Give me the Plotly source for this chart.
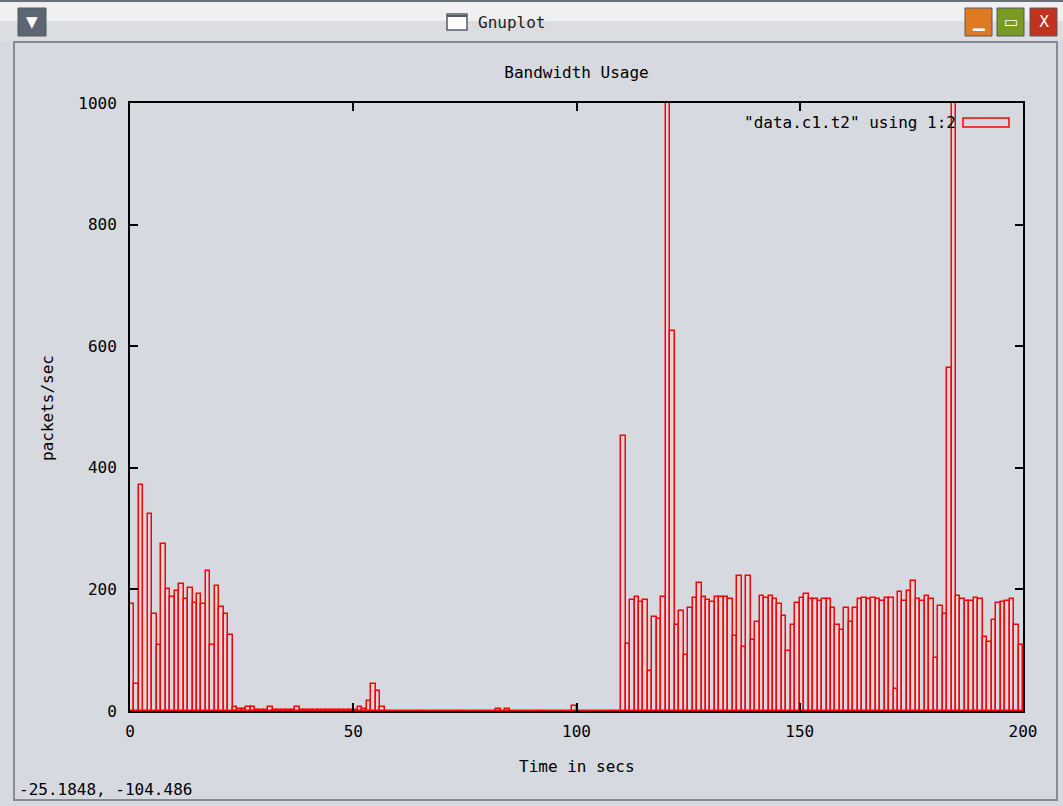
import plotly.graph_objects as go

# ---- data: packets per second, one value per second (t = 0..199) ----
burst_start = [176, 44, 372, 0, 324, 160, 109, 275, 200, 187, 197, 209, 184, 202,
               178, 192, 176, 230, 109, 205, 171, 160, 125]                     # t 0-22
trickle = [6, 3, 3, 6, 6, 2, 2, 2, 6, 2, 2, 2, 2, 2, 6, 2, 2, 2, 2, 2, 2, 2, 2,
           2, 2, 2, 2, 2, 6, 3, 17, 44, 33, 6]                                  # t 23-56
quiet = [0] * 25 + [3, 0, 3] + [0] * 14 + [9] + [0] * 10                         # t 57-109
burst_mid = [453, 110, 183, 188, 180, 183, 65, 155, 151, 188, 1200, 625, 142, 164,
             92, 170, 186, 210, 188, 183, 180, 188, 188, 188]                   # t 110-133
steady = [184, 124, 222, 106, 222, 117, 146, 189, 186, 189, 184, 176, 157, 98,
          141, 178, 186, 192, 184, 184, 181, 184, 184, 170, 141, 133, 170, 146,
          170, 184, 186, 184, 186, 184]                                          # t 134-167
tail = [181, 186, 186, 36, 195, 181, 197, 214, 184, 181, 189, 184, 87, 173, 160,
        564, 1200, 189, 184, 181, 181, 186, 184, 122, 114, 149, 177, 179, 181,
        184, 141, 108]                                                           # t 168-199

packets = burst_start + trickle + quiet + burst_mid + steady + tail
seconds = list(range(len(packets)))

x_ticks = [0, 50, 100, 150, 200]
y_ticks = [0, 200, 400, 600, 800, 1000]

# ---- figure geometry helpers (figure pixels -> paper coords) ----
W, H = 1063, 806
L, R, T, B = 130, 1023, 103, 711
def px(x):
    return (x - L) / (R - L)
def py(y):
    return (B - y) / (B - T)

MONO = "DejaVu Sans Mono"
BG = "#d6d9df"

fig = go.Figure(go.Bar(
    x=seconds, y=packets, width=1, offset=0,
    marker=dict(color="rgba(0,0,0,0)", line=dict(color="#ff0000", width=1.5)),
    showlegend=False, hoverinfo="x+y",
))

axis_common = dict(
    showline=True, linecolor="black", linewidth=2, mirror="ticks",
    ticks="inside", ticklen=8, tickwidth=2, tickcolor="black",
    showgrid=False, zeroline=False,
    tickfont=dict(family=MONO, size=16, color="black"),
)
fig.update_layout(
    width=W, height=H,
    margin=dict(l=L, r=W - R, t=T, b=H - B),
    paper_bgcolor=BG, plot_bgcolor=BG,
    xaxis=dict(range=[0, 200], tickvals=x_ticks, ticklabelstandoff=5, **axis_common),
    yaxis=dict(range=[0, 1000], tickvals=y_ticks, ticklabelstandoff=8, **axis_common),
    title=dict(text="Bandwidth Usage", x=0.5, xref="paper", xanchor="center",
               y=1 - 72 / H, yref="container", yanchor="middle",
               font=dict(family=MONO, size=16, color="black")),
    bargap=0,
)

shapes = []
annotations = []

# window chrome: title bar
shapes.append(dict(type="rect", xref="paper", yref="paper", layer="above",
                   x0=px(0), x1=px(W), y0=py(0), y1=py(21),
                   fillcolor="#f0f0f2", line=dict(width=0)))
shapes.append(dict(type="rect", xref="paper", yref="paper", layer="above",
                   x0=px(0), x1=px(W), y0=py(21), y1=py(42),
                   fillcolor="#dcdde1", line=dict(width=0)))
shapes.append(dict(type="line", xref="paper", yref="paper", layer="above",
                   x0=px(0), x1=px(W), y0=py(1), y1=py(1),
                   line=dict(color="#6b6f78", width=2)))
# content frame
shapes.append(dict(type="rect", xref="paper", yref="paper", layer="above",
                   x0=px(14), x1=px(1057), y0=py(42), y1=py(800),
                   fillcolor="rgba(0,0,0,0)", line=dict(color="#858a94", width=2)))

def button(x0, x1, color, glyph):
    shapes.append(dict(type="rect", xref="paper", yref="paper", layer="above",
                       x0=px(x0), x1=px(x1), y0=py(8), y1=py(36),
                       fillcolor=color, line=dict(color="#55595f", width=1)))
    annotations.append(dict(xref="paper", yref="paper", x=px((x0 + x1) / 2), y=py(22),
                            text=glyph, showarrow=False,
                            font=dict(family="DejaVu Sans", size=15, color="white"),
                            xanchor="center", yanchor="middle"))

button(18, 46, "#5b6573", "▼")
button(965, 992, "#e07a22", "▁")
button(997, 1024, "#7b9a22", "▭")
button(1030, 1057, "#c2321e", "X")

# small window icon and title text
shapes.append(dict(type="rect", xref="paper", yref="paper", layer="above",
                   x0=px(447), x1=px(467), y0=py(14), y1=py(30),
                   fillcolor="white", line=dict(color="#555a62", width=1.5)))
shapes.append(dict(type="line", xref="paper", yref="paper", layer="above",
                   x0=px(447), x1=px(467), y0=py(16), y1=py(16),
                   line=dict(color="#555a62", width=2)))
annotations.append(dict(xref="paper", yref="paper", x=px(476), y=py(22),
                        text="Gnuplot", showarrow=False, xanchor="left", yanchor="middle",
                        font=dict(family=MONO, size=16, color="#222222")))

# axis titles
annotations.append(dict(xref="paper", yref="paper", x=px(577), y=py(766),
                        text="Time in secs", showarrow=False,
                        xanchor="center", yanchor="middle",
                        font=dict(family=MONO, size=16, color="black")))
annotations.append(dict(xref="paper", yref="paper", x=px(47), y=py(408),
                        text="packets/sec", showarrow=False, textangle=-90,
                        xanchor="center", yanchor="middle",
                        font=dict(family=MONO, size=16, color="black")))

# key (gnuplot style: text then sample box)
annotations.append(dict(xref="paper", yref="paper", x=px(958), y=py(122),
                        text='"data.c1.t2" using 1:2', showarrow=False,
                        xanchor="right", yanchor="middle",
                        font=dict(family=MONO, size=16, color="black")))
shapes.append(dict(type="rect", xref="paper", yref="paper", layer="above",
                   x0=px(963), x1=px(1009), y0=py(118), y1=py(127),
                   fillcolor="rgba(0,0,0,0)", line=dict(color="#ff0000", width=1.5)))

# mouse coordinate readout
annotations.append(dict(xref="paper", yref="paper", x=px(17), y=py(789),
                        text="-25.1848, -104.486", showarrow=False,
                        xanchor="left", yanchor="middle",
                        font=dict(family=MONO, size=16, color="black")))

fig.update_layout(shapes=shapes, annotations=annotations)
fig.write_html("out.html",
               config={"displayModeBar": False},
               post_script="document.body.style.margin='0';document.body.style.overflow='hidden';")
